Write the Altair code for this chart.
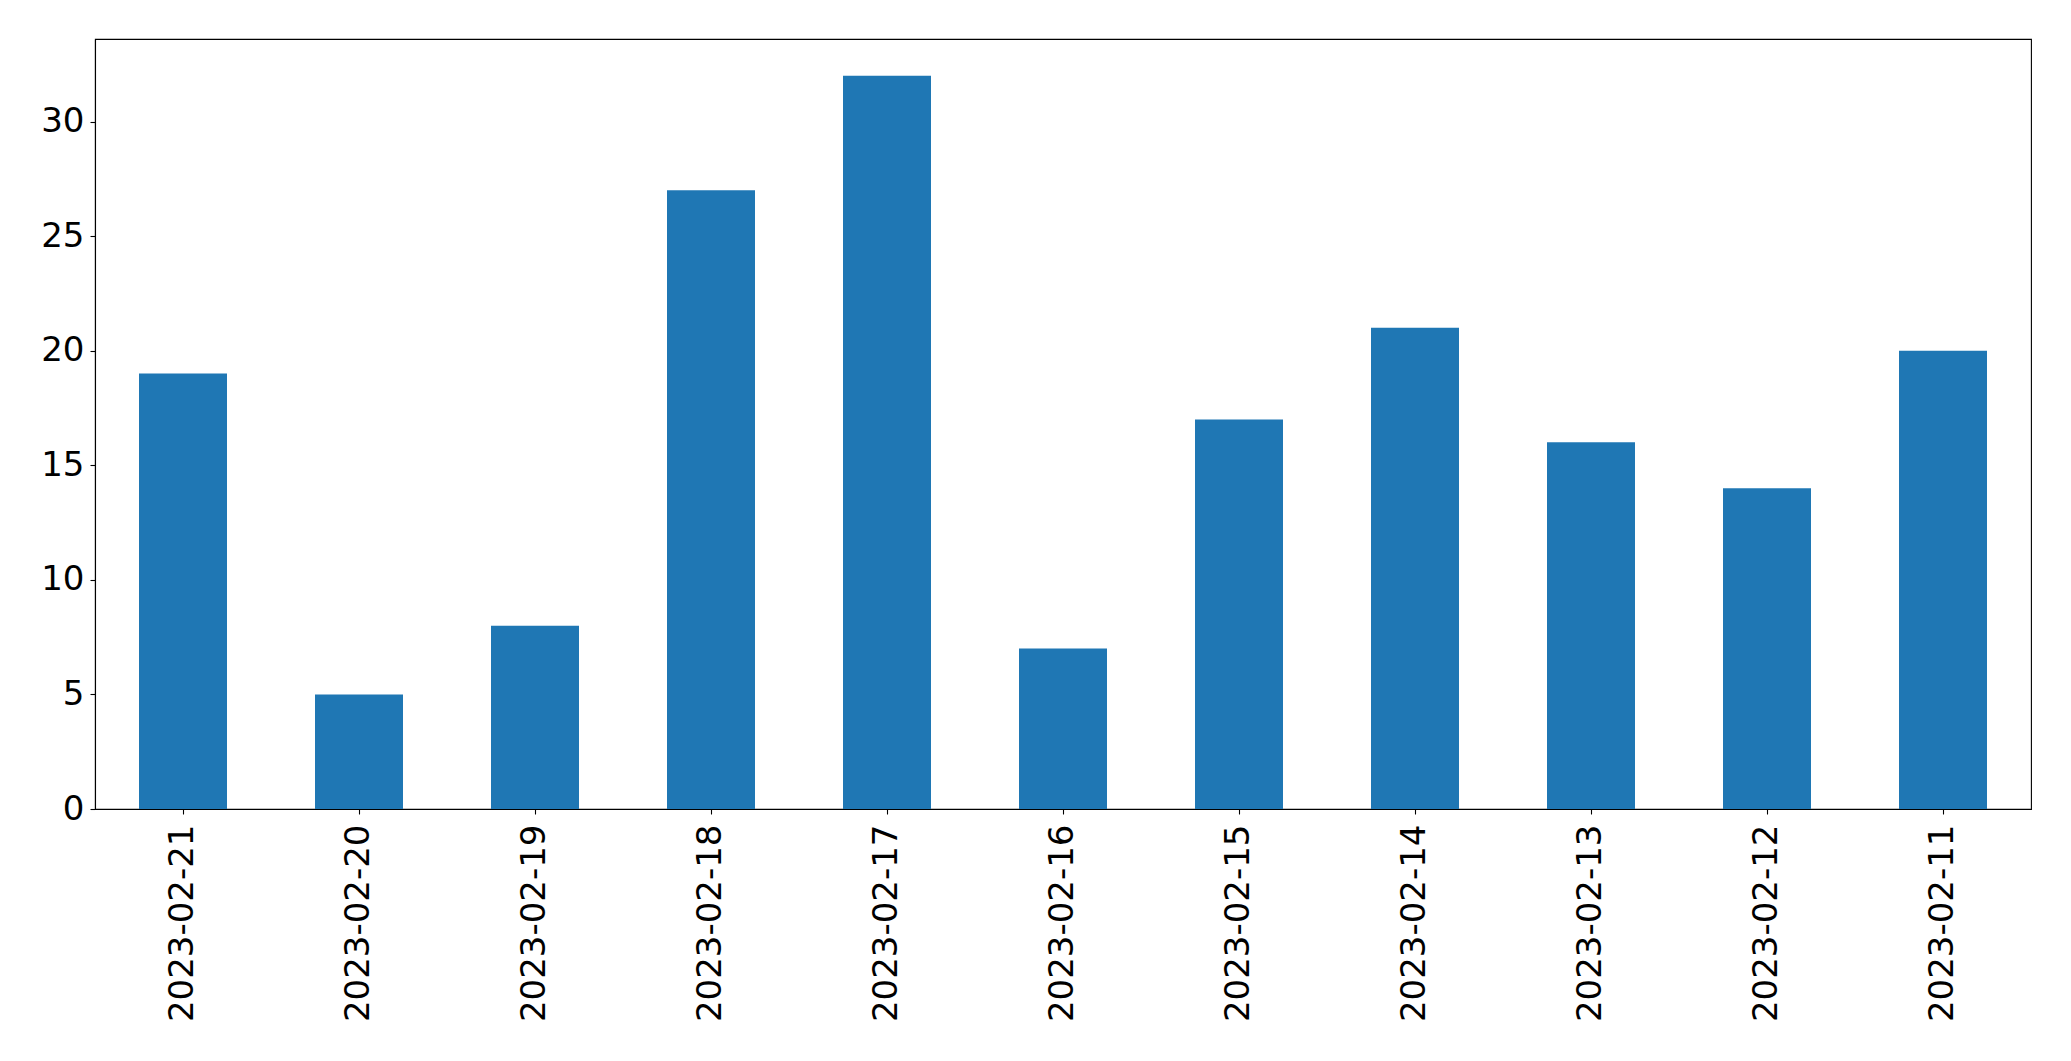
import altair as alt
import pandas as pd

dates = ["2023-02-21", "2023-02-20", "2023-02-19", "2023-02-18", "2023-02-17",
         "2023-02-16", "2023-02-15", "2023-02-14", "2023-02-13", "2023-02-12",
         "2023-02-11"]
counts = [19, 5, 8, 27, 32, 7, 17, 21, 16, 14, 20]
y_ticks = [0, 5, 10, 15, 20, 25, 30]

df = pd.DataFrame({"date": dates, "count": counts})

chart = alt.Chart(df).mark_bar(color="#1f77b4").encode(
    x=alt.X("date:N", sort=None, title=None,
            scale=alt.Scale(paddingInner=0.5, paddingOuter=0.25),
            axis=alt.Axis(labelAngle=-90, labelFontSize=34, labelFont="DejaVu Sans",
                          labelColor="black", tickColor="black", domainColor="black",
                          tickSize=5, labelPadding=10, grid=False, labelLimit=0)),
    y=alt.Y("count:Q", title=None,
            scale=alt.Scale(domain=[0, 33.6], nice=False),
            axis=alt.Axis(values=y_ticks, labelFontSize=34, labelFont="DejaVu Sans",
                          labelColor="black", tickColor="black", domainColor="black",
                          tickSize=5, labelPadding=6, grid=False)),
).properties(
    width=1936, height=770,
    autosize=alt.AutoSizeParams(type="none"),
    padding={"left": 87, "top": 31, "right": 30, "bottom": 230},
).configure_view(stroke="black", strokeWidth=1.1).configure_axis(domainWidth=1.1, tickWidth=1.1)

chart.save("out.html", embed_options={"renderer": "svg", "actions": False})
